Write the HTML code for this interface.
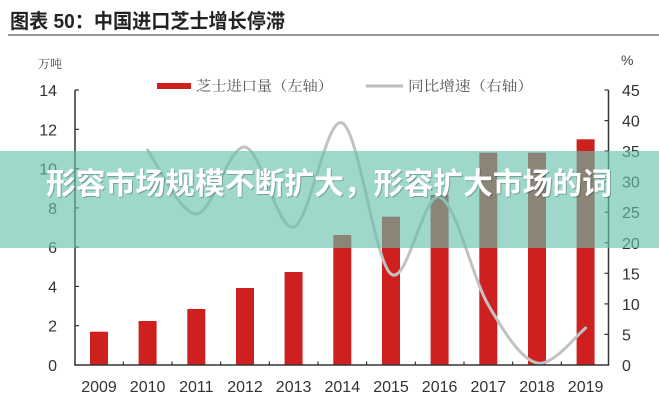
<!DOCTYPE html>
<html><head><meta charset="utf-8"><style>
html,body{margin:0;padding:0;background:#fff;}
svg{display:block;}
</style></head><body>
<svg width="659" height="400" viewBox="0 0 659 400" xmlns="http://www.w3.org/2000/svg">
<rect width="659" height="400" fill="#fff"/>
<!-- title -->
<text x="10" y="28" font-family="Liberation Sans, Noto Sans CJK SC, sans-serif" font-weight="bold" font-size="20" fill="#222" textLength="275" lengthAdjust="spacingAndGlyphs">图表 50：中国进口芝士增长停滞</text>
<line x1="8" y1="35" x2="659" y2="35" stroke="#777" stroke-width="1.5"/>
<!-- units -->
<text x="38" y="68" font-family="Noto Serif CJK SC, sans-serif" font-size="12" fill="#444">万吨</text>
<text x="621" y="65" font-family="Liberation Sans, sans-serif" font-size="14" fill="#444">%</text>
<!-- legend -->
<rect x="157" y="83" width="34" height="6" fill="#cf2020"/>
<text x="196" y="91" font-family="Noto Serif CJK SC, sans-serif" font-size="14" fill="#555" textLength="137" lengthAdjust="spacingAndGlyphs">芝士进口量（左轴）</text>
<line x1="366" y1="86" x2="403" y2="86" stroke="#bdbdbd" stroke-width="3"/>
<text x="408" y="91" font-family="Noto Serif CJK SC, sans-serif" font-size="14" fill="#555" textLength="125" lengthAdjust="spacingAndGlyphs">同比增速（右轴）</text>
<!-- bars -->
<g fill="#cf2020">
<rect x="90" y="331.7" width="18" height="33.3"/>
<rect x="138.6" y="321" width="18" height="44"/>
<rect x="187.3" y="309" width="18" height="56"/>
<rect x="236" y="288" width="18" height="77"/>
<rect x="284.6" y="272" width="18" height="93"/>
<rect x="333.3" y="235" width="18" height="130"/>
<rect x="382" y="216.7" width="18" height="148.3"/>
<rect x="430.6" y="195" width="18" height="170"/>
<rect x="479.3" y="152.7" width="18" height="212.3"/>
<rect x="528" y="152.7" width="18" height="212.3"/>
<rect x="576.6" y="139.3" width="18" height="225.7"/>
</g>
<!-- line -->
<path d="M147.6,150 C155.7,160.7 180.1,214.5 196.3,214 C212.5,213.5 228.8,144.7 245,147 C261.2,149.3 277.4,231 293.6,227 C309.8,223 326.1,115.3 342.3,123 C358.5,130.7 374.8,261.7 391,274 C407.2,286.3 423.4,191.8 439.6,197 C455.8,202.2 472.1,277.3 488.3,305 C504.5,332.7 520.8,359.2 537,363 C553.2,366.8 577.5,333.8 585.6,328" fill="none" stroke="#c2c2c2" stroke-width="3" stroke-linecap="round"/>
<!-- axes -->
<g stroke="#333" stroke-width="1.5" fill="none">
<line x1="75" y1="90" x2="75" y2="365.5"/>
<line x1="608.5" y1="90" x2="608.5" y2="365.5"/>
<line x1="74.3" y1="365" x2="609.2" y2="365"/>
</g>
<g stroke="#333" stroke-width="1.2">
<line x1="75" y1="90" x2="79" y2="90"/>
<line x1="75" y1="129.3" x2="79" y2="129.3"/>
<line x1="75" y1="168.6" x2="79" y2="168.6"/>
<line x1="75" y1="207.9" x2="79" y2="207.9"/>
<line x1="75" y1="247.1" x2="79" y2="247.1"/>
<line x1="75" y1="286.4" x2="79" y2="286.4"/>
<line x1="75" y1="325.7" x2="79" y2="325.7"/>
<line x1="608.5" y1="90" x2="604.5" y2="90"/>
<line x1="608.5" y1="120.6" x2="604.5" y2="120.6"/>
<line x1="608.5" y1="151.1" x2="604.5" y2="151.1"/>
<line x1="608.5" y1="181.7" x2="604.5" y2="181.7"/>
<line x1="608.5" y1="212.2" x2="604.5" y2="212.2"/>
<line x1="608.5" y1="242.8" x2="604.5" y2="242.8"/>
<line x1="608.5" y1="273.3" x2="604.5" y2="273.3"/>
<line x1="608.5" y1="303.9" x2="604.5" y2="303.9"/>
<line x1="608.5" y1="334.4" x2="604.5" y2="334.4"/>
<line x1="123.3" y1="365" x2="123.3" y2="361.5"/>
<line x1="172" y1="365" x2="172" y2="361.5"/>
<line x1="220.6" y1="365" x2="220.6" y2="361.5"/>
<line x1="269.3" y1="365" x2="269.3" y2="361.5"/>
<line x1="318" y1="365" x2="318" y2="361.5"/>
<line x1="366.6" y1="365" x2="366.6" y2="361.5"/>
<line x1="415.3" y1="365" x2="415.3" y2="361.5"/>
<line x1="464" y1="365" x2="464" y2="361.5"/>
<line x1="512.6" y1="365" x2="512.6" y2="361.5"/>
<line x1="561.3" y1="365" x2="561.3" y2="361.5"/>
</g>
<!-- left labels -->
<g font-family="Liberation Sans, sans-serif" font-size="16" fill="#333" text-anchor="end">
<text x="57" y="96">14</text>
<text x="57" y="135.3">12</text>
<text x="57" y="174.6">10</text>
<text x="57" y="213.9">8</text>
<text x="57" y="253.1">6</text>
<text x="57" y="292.4">4</text>
<text x="57" y="331.7">2</text>
<text x="57" y="371">0</text>
</g>
<!-- right labels -->
<g font-family="Liberation Sans, sans-serif" font-size="16" fill="#333">
<text x="622" y="96">45</text>
<text x="622" y="126.6">40</text>
<text x="622" y="157.1">35</text>
<text x="622" y="187.7">30</text>
<text x="622" y="218.2">25</text>
<text x="622" y="248.8">20</text>
<text x="622" y="279.3">15</text>
<text x="622" y="309.9">10</text>
<text x="622" y="340.4">5</text>
<text x="622" y="371">0</text>
</g>
<!-- x labels -->
<g font-family="Liberation Sans, sans-serif" font-size="16" fill="#333" text-anchor="middle">
<text x="99" y="392">2009</text>
<text x="147.6" y="392">2010</text>
<text x="196.3" y="392">2011</text>
<text x="245" y="392">2012</text>
<text x="293.6" y="392">2013</text>
<text x="342.3" y="392">2014</text>
<text x="391" y="392">2015</text>
<text x="439.6" y="392">2016</text>
<text x="488.3" y="392">2017</text>
<text x="537" y="392">2018</text>
<text x="585.6" y="392">2019</text>
</g>
<!-- overlay band -->
<rect x="0" y="151" width="659" height="97" fill="rgb(99,193,173)" fill-opacity="0.63"/>
<text x="46" y="194" font-family="Noto Sans CJK SC, sans-serif" font-weight="bold" font-size="30" fill="#000" fill-opacity="0.25" textLength="566" lengthAdjust="spacingAndGlyphs" transform="translate(1,1)">形容市场规模不断扩大，形容扩大市场的词</text>
<text x="46" y="194" font-family="Noto Sans CJK SC, sans-serif" font-weight="bold" font-size="30" fill="#fff" textLength="566" lengthAdjust="spacingAndGlyphs">形容市场规模不断扩大，形容扩大市场的词</text>
</svg>
</body></html>
